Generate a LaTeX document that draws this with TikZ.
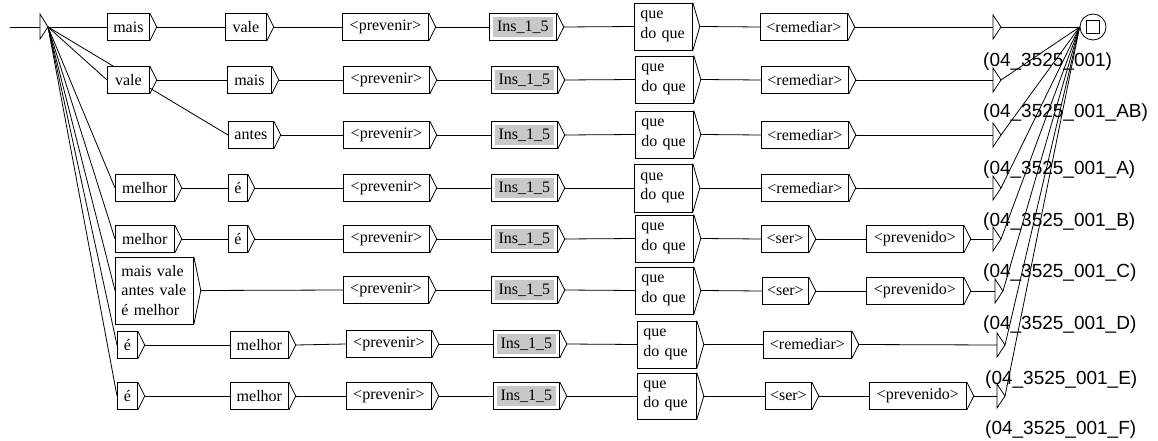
\documentclass[tikz,border=0pt]{standalone}
\usepackage{fontspec}
\setmainfont{Liberation Serif}
\newfontfamily\labfont{Liberation Sans}
\usetikzlibrary{backgrounds}
\definecolor{insgray}{RGB}{200,200,200}
\tikzset{
  ln/.style={line width=0.8pt, draw=black},
  box/.style={draw=black, line width=0.8pt, fill=white, anchor=west, minimum height=27pt, inner sep=0pt, font=\fontsize{16}{19.5}\selectfont},
  mbox/.style={box, align=left, inner xsep=6pt, inner ysep=4pt},
  gbox/.style={box, path picture={\fill[insgray] ([shift={(3.5pt,-3.5pt)}]path picture bounding box.north west) rectangle ([shift={(-3.5pt,3.5pt)}]path picture bounding box.south east);}},
  lab/.style={anchor=west, inner sep=0pt, font=\labfont\fontsize{19}{22}\selectfont},
  fstate/.style={circle, draw=black, line width=0.8pt, minimum size=26pt, inner sep=0pt},
  fsq/.style={draw=black, line width=0.8pt, minimum size=13pt, inner sep=0pt},
}
\begin{document}
\begin{tikzpicture}[x=1pt,y=-1pt]
\useasboundingbox (0,0) rectangle (1158,441);
\begin{pgfonlayer}{background}
\fill[white] (0,0) rectangle (1158,441);
\end{pgfonlayer}

% initial state
\coordinate (s0) at (10,27);
\coordinate (i0) at (40,27);
\coordinate (init) at (48,27);
\draw[ln] (40,14) -- (init) -- (40,39) -- cycle;

% row 1
\node[box, minimum width=42pt] (r1a) at (107,27) {mais};
\node[box, minimum width=41pt] (r1b) at (225,27) {vale};
\node[box, minimum width=86pt] (r1c) at (342,27) {<prevenir>};
\node[gbox, minimum width=67pt] (r1d) at (489,27) {Ins\_1\_5};
\node[mbox, text width=46pt, minimum height=47pt] (r1e) at (634,26.5) {que\\do que};
\node[box, minimum width=87pt] (r1f) at (760,27) {<remediar>};
% row 2
\node[box, minimum width=42pt] (r2a) at (107,80) {vale};
\node[box, minimum width=44pt] (r2b) at (227,80) {mais};
\node[box, minimum width=86pt] (r2c) at (343,80) {<prevenir>};
\node[gbox, minimum width=66pt] (r2d) at (491,80) {Ins\_1\_5};
\node[mbox, text width=46pt, minimum height=47pt] (r2e) at (635,79.5) {que\\do que};
\node[box, minimum width=87pt] (r2f) at (761,80) {<remediar>};
% row 3
\node[box, minimum width=45pt] (r3b) at (228,135) {antes};
\node[box, minimum width=86pt] (r3c) at (343,135) {<prevenir>};
\node[gbox, minimum width=66pt] (r3d) at (491,135) {Ins\_1\_5};
\node[mbox, text width=46pt, minimum height=47pt] (r3e) at (635,134.5) {que\\do que};
\node[box, minimum width=87pt] (r3f) at (761,135) {<remediar>};
% row 4
\node[box, minimum width=59pt] (r4a) at (115,188) {melhor};
\node[box, minimum width=19pt] (r4b) at (228,188) {é};
\node[box, minimum width=86pt] (r4c) at (343,188) {<prevenir>};
\node[gbox, minimum width=66pt] (r4d) at (491,188) {Ins\_1\_5};
\node[mbox, text width=46pt, minimum height=48pt] (r4e) at (634,188) {que\\do que};
\node[box, minimum width=87pt] (r4f) at (761,188) {<remediar>};
% row 5
\node[box, minimum width=59pt] (r5a) at (115,239) {melhor};
\node[box, minimum width=19pt] (r5b) at (228,239) {é};
\node[box, minimum width=86pt] (r5c) at (343,239) {<prevenir>};
\node[gbox, minimum width=66pt] (r5d) at (491,239) {Ins\_1\_5};
\node[mbox, text width=46pt, minimum height=47pt] (r5e) at (635,238.5) {que\\do que};
\node[box, minimum width=47pt] (r5f) at (761,239) {<ser>};
\node[box, minimum width=97pt] (r5g) at (866,239) {<prevenido>};
% row 6
\node[mbox, text width=66pt, minimum height=67pt] (r6a) at (115,290.5) {mais vale\\antes vale\\é melhor};
\node[box, minimum width=85pt] (r6c) at (343,290) {<prevenir>};
\node[gbox, minimum width=66pt] (r6d) at (491,290) {Ins\_1\_5};
\node[mbox, text width=46pt, minimum height=47pt] (r6e) at (635,290.5) {que\\do que};
\node[box, minimum width=46pt] (r6f) at (762,291) {<ser>};
\node[box, minimum width=97pt] (r6g) at (866,291) {<prevenido>};
% row 7
\node[box, minimum width=20pt] (r7a) at (117,345) {é};
\node[box, minimum width=58pt] (r7b) at (230,345) {melhor};
\node[box, minimum width=85pt] (r7c) at (346,344) {<prevenir>};
\node[gbox, minimum width=66pt] (r7d) at (493,344) {Ins\_1\_5};
\node[mbox, text width=47pt, minimum height=47pt] (r7e) at (637,344.5) {que\\do que};
\node[box, minimum width=88pt] (r7f) at (763,344.5) {<remediar>};
% row 8
\node[box, minimum width=20pt] (r8a) at (117,396) {é};
\node[box, minimum width=58pt] (r8b) at (230,396) {melhor};
\node[box, minimum width=85pt] (r8c) at (346,396) {<prevenir>};
\node[gbox, minimum width=66pt] (r8d) at (493,396) {Ins\_1\_5};
\node[mbox, text width=47pt, minimum height=46pt] (r8e) at (637,396) {que\\do que};
\node[box, minimum width=46pt] (r8f) at (765,396) {<ser>};
\node[box, minimum width=97pt] (r8g) at (869,396) {<prevenido>};

% chevrons
\foreach \n in {r1a,r1b,r1c,r1d,r1e,r1f,r2a,r2b,r2c,r2d,r2e,r2f,r3b,r3c,r3d,r3e,r3f,
  r4a,r4b,r4c,r4d,r4e,r4f,r5a,r5b,r5c,r5d,r5e,r5f,r5g,r6a,r6c,r6d,r6e,r6f,r6g,
  r7a,r7b,r7c,r7d,r7e,r7f,r8a,r8b,r8c,r8d,r8e,r8f,r8g}{
  \draw[ln] (\n.north east) -- ([xshift=7pt]\n.east) -- (\n.south east);
}

% final arrows (empty boxes with outputs)
\foreach \i/\x/\y in {1/993/27,2/993/80,3/993/135,4/993/188,5/993/239,6/995/291,7/997/345,8/997/396}{
  \coordinate (f\i) at (\x,\y);
  \coordinate (g\i) at (\x+8,\y);
  \draw[ln] (\x,\y-12) -- (g\i) -- (\x,\y+12) -- cycle;
}

% final state
\node[fstate] (fin) at (1093,27) {};
\node[fsq] (finsq) at (fin.center) {};

% outputs
\node[lab] (l1) at (983,62) {(04\_3525\_001)};
\node[lab] (l2) at (983,113) {(04\_3525\_001\_AB)};
\node[lab] (l3) at (983,170) {(04\_3525\_001\_A)};
\node[lab] (l4) at (983,222) {(04\_3525\_001\_B)};
\node[lab] (l5) at (983,273) {(04\_3525\_001\_C)};
\node[lab] (l6) at (983,325) {(04\_3525\_001\_D)};
\node[lab] (l7) at (985,380) {(04\_3525\_001\_E)};
\node[lab] (l8) at (985,430) {(04\_3525\_001\_F)};

\begin{pgfonlayer}{background}
\draw[ln] (s0) -- (i0);
\foreach \t in {r1a,r2a,r3b,r4a,r5a,r6a,r7a,r8a}{
  \draw[ln] (init) -- (\t.west);
}
\foreach \a/\b in {r1a/r1b,r1b/r1c,r1c/r1d,r1d/r1e,r1e/r1f,
  r2a/r2b,r2b/r2c,r2c/r2d,r2d/r2e,r2e/r2f,
  r3b/r3c,r3c/r3d,r3d/r3e,r3e/r3f,
  r4a/r4b,r4b/r4c,r4c/r4d,r4d/r4e,r4e/r4f,
  r5a/r5b,r5b/r5c,r5c/r5d,r5d/r5e,r5e/r5f,r5f/r5g,
  r6a/r6c,r6c/r6d,r6d/r6e,r6e/r6f,r6f/r6g,
  r7a/r7b,r7b/r7c,r7c/r7d,r7d/r7e,r7e/r7f,
  r8a/r8b,r8b/r8c,r8c/r8d,r8d/r8e,r8e/r8f,r8f/r8g}{
  \draw[ln] ([xshift=7pt]\a.east) -- (\b.west);
}
\foreach \a/\i in {r1f/1,r2f/2,r3f/3,r4f/4,r5g/5,r6g/6,r7f/7,r8g/8}{
  \draw[ln] ([xshift=7pt]\a.east) -- (f\i);
}
\foreach \i in {1,...,8}{
  \draw[ln] (g\i) -- (fin.west);
}
\end{pgfonlayer}
\end{tikzpicture}
\end{document}
